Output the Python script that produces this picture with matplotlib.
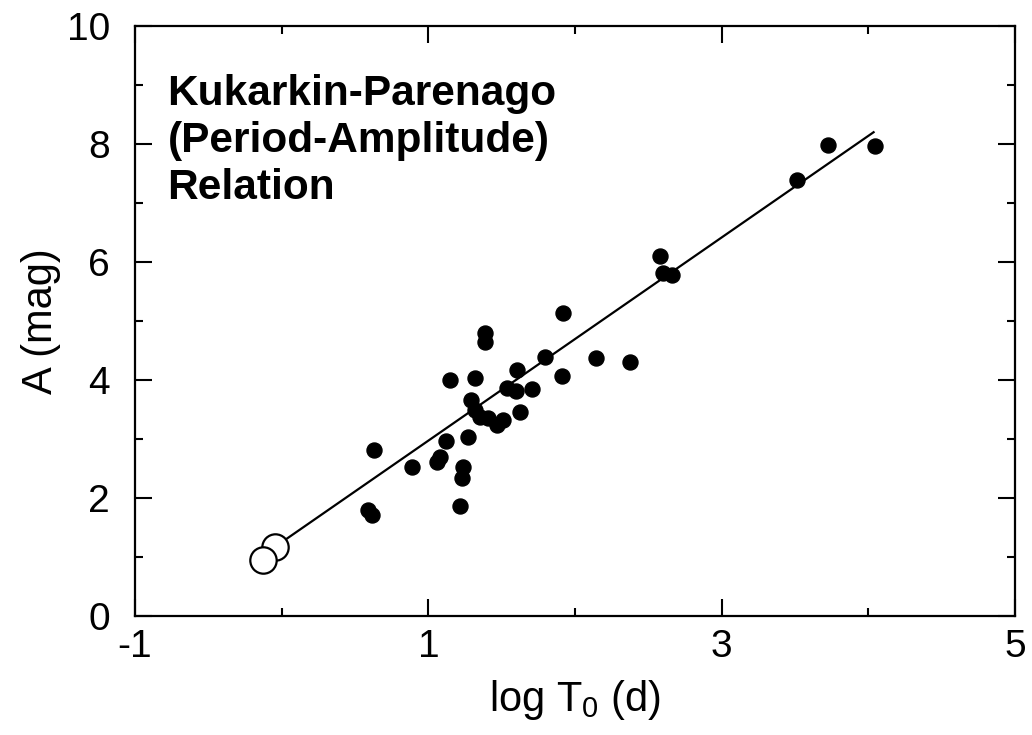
import matplotlib
matplotlib.use('Agg')
import matplotlib.pyplot as plt
import numpy as np

plt.rcParams['font.family'] = ['Liberation Sans', 'DejaVu Sans']

# filled points: log T0 (d), A (mag)
log_t = [1.385, 1.385, 1.147, 1.317, 1.603, 1.794, 1.910, 1.535, 1.596, 1.705,
         1.290, 1.317, 1.351, 1.405, 1.467, 1.508, 1.624, 1.269, 1.119, 1.078,
         1.058, 0.629, 0.888, 1.235, 1.228, 1.215, 0.588, 0.615, 2.578, 2.598,
         2.659, 1.917, 2.141, 2.373, 3.722, 3.511, 4.043]
amp = [4.80, 4.64, 4.00, 4.03, 4.17, 4.39, 4.07, 3.86, 3.82, 3.85,
       3.66, 3.49, 3.37, 3.36, 3.24, 3.32, 3.46, 3.03, 2.97, 2.69,
       2.61, 2.81, 2.53, 2.53, 2.34, 1.86, 1.80, 1.71, 6.10, 5.81,
       5.78, 5.14, 4.37, 4.31, 7.98, 7.39, 7.97]

# open circles
log_t_open = [-0.046, -0.128]
amp_open = [1.17, 0.95]

# fitted relation
fit_x = [-0.046, 4.036]
fit_slope = 1.722
fit_icpt = 1.25

fig = plt.figure(figsize=(10.32, 7.35), dpi=100)
ax = fig.add_axes([0.1308, 0.1619, 0.8527, 0.8027])

xx = np.array(fit_x)
ax.plot(xx, fit_icpt + fit_slope * xx, color='black', lw=1.6, zorder=2)
ax.plot(log_t, amp, 'o', color='black', ms=10.8, zorder=3)
ax.plot(log_t_open, amp_open, 'o', mfc='white', mec='black', mew=1.6, ms=19, zorder=4)

ax.set_xlim(-1, 5)
ax.set_ylim(0, 10)
ax.set_xticks([-1, 1, 3, 5])
ax.set_xticks([0, 2, 4], minor=True)
ax.set_yticks([0, 2, 4, 6, 8, 10])
ax.set_yticks([1, 3, 5, 7, 9], minor=True)
ax.tick_params(which='both', direction='in', top=True, right=True, width=1.5)
ax.tick_params(which='major', length=12, labelsize=28)
ax.tick_params(which='minor', length=6)
ax.tick_params(axis='y', which='major', pad=18)
ax.tick_params(axis='x', which='major', pad=9)
ax.set_xticklabels(['-1', '1', '3', '5'])
for s in ax.spines.values():
    s.set_linewidth(1.6)

ax.set_xlabel('log T$_\\mathregular{0}$ (d)', fontsize=30, labelpad=10)
ax.set_ylabel('A (mag)', fontsize=30, labelpad=4)

ax.text(0.037, 0.918, 'Kukarkin-Parenago\n(Period-Amplitude)\nRelation',
        transform=ax.transAxes, fontsize=30.5, fontweight='bold', va='top',
        ha='left', linespacing=1.22)

fig.savefig('out.png', dpi=100)
